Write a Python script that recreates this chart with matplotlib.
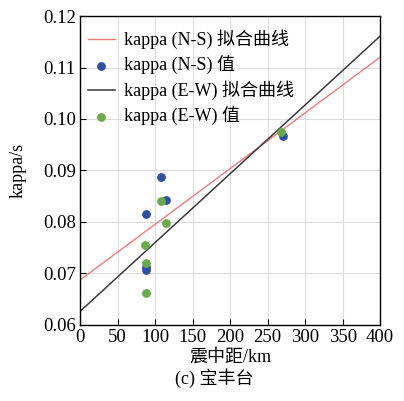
import matplotlib
matplotlib.use('Agg')
import matplotlib.pyplot as plt

plt.rcParams['font.family'] = ['Liberation Serif', 'Noto Sans CJK SC']

# Epicentral distance (km) and kappa values (s)
ns_dist = [88, 88, 88, 108, 114, 270]
ns_kappa = [0.0816, 0.0713, 0.0707, 0.0888, 0.0842, 0.0966]
ew_dist = [87, 88, 88, 108, 115, 268]
ew_kappa = [0.0755, 0.0720, 0.0661, 0.0841, 0.0798, 0.0975]

# Fitted lines (end points)
fit_dist = [0, 400]
ns_fit = [0.0687, 0.1120]
ew_fit = [0.0626, 0.1161]

fig = plt.figure(figsize=(4.04, 4.01), dpi=100)
ax = fig.add_axes([0.198, 0.19, 0.743, 0.77])

ax.grid(True, color='#dcdcdc', linewidth=0.8)
ax.set_axisbelow(True)

ax.plot(fit_dist, ns_fit, color='#e87c7e', linewidth=1.0, label='kappa (N-S) 拟合曲线')
ax.scatter(ns_dist, ns_kappa, s=28, color='#2f4f9f', label='kappa (N-S) 值', zorder=3)
ax.plot(fit_dist, ew_fit, color='#3a3a3a', linewidth=1.1, label='kappa (E-W) 拟合曲线')
ax.scatter(ew_dist, ew_kappa, s=28, color='#6aaa4c', label='kappa (E-W) 值', zorder=3)

ax.set_xlim(0, 400)
ax.set_ylim(0.06, 0.12)
ax.set_xticks(range(0, 401, 50))
ax.set_yticks([0.06, 0.07, 0.08, 0.09, 0.10, 0.11, 0.12])
ax.set_yticklabels(['0.06', '0.07', '0.08', '0.09', '0.10', '0.11', '0.12'])
ax.tick_params(direction='in', labelsize=13.5, length=4, pad=3)
for s in ax.spines.values():
    s.set_linewidth(1.0)

ax.set_ylabel('kappa/s', fontsize=13, labelpad=12)
ax.set_xlabel('震中距/km', fontsize=13, labelpad=2)

leg = ax.legend(loc='upper left', frameon=False, fontsize=13, handlelength=1.5,
                handletextpad=0.5, labelspacing=0.34, borderaxespad=0.1,
                bbox_to_anchor=(-0.005, 0.985), borderpad=0.4)

fig.text(0.53, 0.057, '(c) 宝丰台', ha='center', va='center', fontsize=13)

fig.savefig('out.png', dpi=100)
